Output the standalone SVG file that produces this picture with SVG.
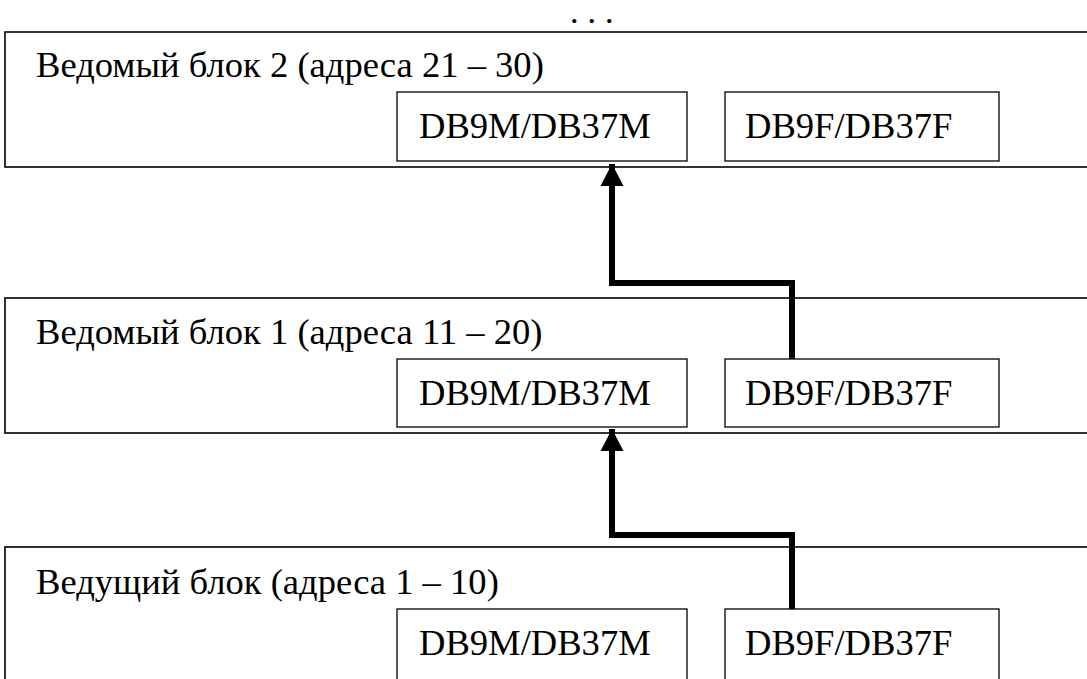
<svg xmlns="http://www.w3.org/2000/svg" width="1087" height="679" viewBox="0 0 1087 679">
<style>
.outer{fill:#fff;stroke:#000;stroke-width:1.6}
.inner{fill:#fff;stroke:#000;stroke-width:1.3}
.t{font-family:"Liberation Serif","Times New Roman",serif;font-size:36.6px;fill:#000}
.dots{font-family:"Liberation Serif","Times New Roman",serif;font-size:26px;font-weight:bold;letter-spacing:11px;fill:#000}
.conn{fill:none;stroke:#000;stroke-width:6;stroke-linejoin:miter}
</style>
<defs>
<marker id="ah" markerUnits="userSpaceOnUse" markerWidth="24" markerHeight="24" refX="22" refY="11.5" orient="auto" viewBox="0 0 24 23">
<path d="M0,0 L22,11.5 L0,23 Z" fill="#000"/>
</marker>
</defs>
<text class="dots" x="571" y="23">...</text>
<g id="slave2">
<rect class="outer" x="5" y="32" width="1100" height="135"/>
<text class="t" x="36" y="77">Ведомый блок 2 (адреса 21 – 30)</text>
<g id="slave2-m"><rect class="inner" x="397" y="92" width="290" height="69"/><text class="t" x="419" y="138">DB9M/DB37M</text></g>
<g id="slave2-f"><rect class="inner" x="725" y="92" width="274" height="69"/><text class="t" x="745" y="138">DB9F/DB37F</text></g>
</g>
<g id="slave1">
<rect class="outer" x="5" y="298" width="1100" height="135"/>
<text class="t" x="36" y="344">Ведомый блок 1 (адреса 11 – 20)</text>
<g id="slave1-m"><rect class="inner" x="397" y="359" width="290" height="68"/><text class="t" x="419" y="405">DB9M/DB37M</text></g>
<g id="slave1-f"><rect class="inner" x="725" y="359" width="274" height="68"/><text class="t" x="745" y="405">DB9F/DB37F</text></g>
</g>
<g id="master">
<rect class="outer" x="5" y="547" width="1100" height="150"/>
<text class="t" x="36" y="594">Ведущий блок (адреса 1 – 10)</text>
<g id="master-m"><rect class="inner" x="397" y="609" width="290" height="80"/><text class="t" x="419" y="655">DB9M/DB37M</text></g>
<g id="master-f"><rect class="inner" x="725" y="609" width="274" height="80"/><text class="t" x="745" y="655">DB9F/DB37F</text></g>
</g>
<g id="connectors">
<path class="conn" d="M792,359 V283 H612 V164" marker-end="url(#ah)"/>
<path class="conn" d="M792,609 V535 H612 V429" marker-end="url(#ah)"/>
</g>
</svg>
